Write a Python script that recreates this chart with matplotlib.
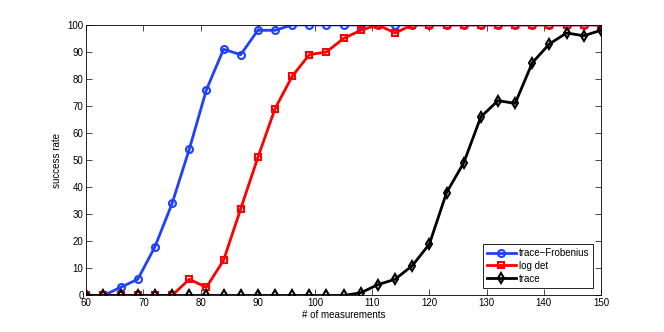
import matplotlib
matplotlib.use('Agg')
import matplotlib.pyplot as plt

x = list(range(60, 151, 3))
frob = [0, 0, 3, 6, 18, 34, 54, 76, 91, 89, 98, 98, 100, 100, 100, 100, 100, 100, 100, 100,
        100, 100, 100, 100, 100, 100, 100, 100, 100, 100, 100]
logdet = [0, 0, 0, 0, 0, 0, 6, 3, 13, 32, 51, 69, 81, 89, 90, 95, 98, 100, 97, 100,
          100, 100, 100, 100, 100, 100, 100, 100, 100, 100, 100]
trace = [0, 0, 0, 0, 0, 0, 0, 0, 0, 0, 0, 0, 0, 0, 0, 0, 1, 4, 6, 11,
         19, 38, 49, 66, 72, 71, 86, 93, 97, 96, 98]

plt.rcParams['font.family'] = 'Liberation Sans'
plt.rcParams['font.size'] = 7

dpi = 100
fig = plt.figure(figsize=(6.64, 3.32), dpi=dpi)
ax = fig.add_axes([0.13, 0.11, 0.775, 0.815])

ax.plot(x, frob, '-o', color='#2040ff', lw=2, ms=5, mfc='none', mew=1.5, label='trace\u2212Frobenius')
ax.plot(x, logdet, '-s', color='#ff0000', lw=2, ms=5, mfc='none', mew=1.5, label='log det')
ax.plot(x, trace, '-d', color='#000000', lw=2, ms=5, mfc='none', mew=1.5, label='trace')

ax.set_xlim(60, 150)
ax.set_ylim(0, 100)
ax.set_xticks(range(60, 151, 10))
ax.set_yticks(range(0, 101, 10))
ax.tick_params(direction='in', top=True, right=True, length=4, width=0.5, pad=2)
for s in ax.spines.values():
    s.set_linewidth(0.6)
ax.set_xlabel('# of measurements', labelpad=1)
ax.set_ylabel('success rate', labelpad=4)

leg = ax.legend(loc='lower right', fancybox=False, framealpha=1, edgecolor='black',
                handlelength=3, borderpad=0.4, labelspacing=0.3, handletextpad=0.3,
                borderaxespad=0.8)
leg.get_frame().set_linewidth(0.6)

fig.savefig('out.png', dpi=dpi)
